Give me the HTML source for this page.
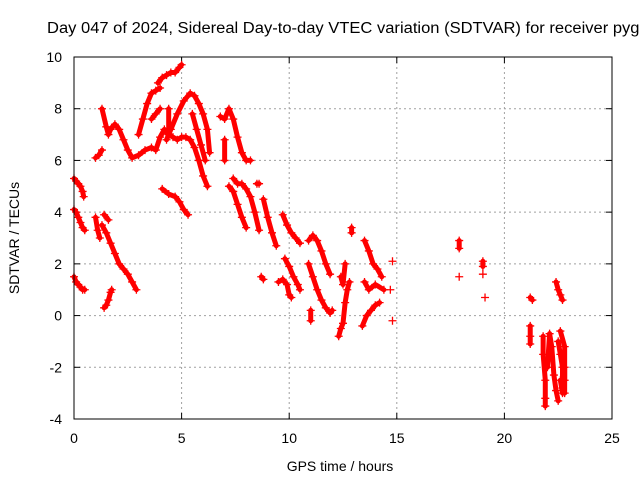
<!DOCTYPE html>
<html><head><meta charset="utf-8"><style>
body{margin:0;background:#fff}
svg{display:block;font-family:"Liberation Sans",sans-serif}
</style></head><body>
<svg id="c" width="640" height="480">
<text x="47" y="33" font-size="15.5" textLength="598" lengthAdjust="spacingAndGlyphs" fill="#000">Day 047 of 2024, Sidereal Day-to-day VTEC variation (SDTVAR) for receiver pygr</text>
<text x="340" y="471" font-size="14" text-anchor="middle">GPS time / hours</text>
<text transform="translate(19,238) rotate(-90)" font-size="14" text-anchor="middle">SDTVAR / TECUs</text>
<g id="grid"></g><g id="marks"></g>
<rect x="74" y="57" width="538" height="362" fill="none" stroke="#000" stroke-width="1"/>
</svg>
<script>
const xTicks=[0,5,10,15,20,25];
const yTicks=[-4,-2,0,2,4,6,8,10];
const tracks=[
[[0,5.3],[0.1,5.2],[0.2,5.1],[0.3,5.0],[0.4,4.8],[0.45,4.6]],
[[0,4.1],[0.1,4.0],[0.2,3.8],[0.3,3.6],[0.4,3.4],[0.5,3.3]],
[[0,1.5],[0.1,1.3],[0.2,1.2],[0.3,1.1],[0.4,1.0],[0.5,1.0]],
[[1.0,6.1],[1.15,6.2],[1.3,6.4]],
[[1.3,8.0],[1.5,7.3],[1.6,7.0],[1.7,7.2],[1.9,7.4],[2.1,7.2],[2.3,6.8],[2.5,6.4],[2.7,6.1],[3.0,6.2],[3.3,6.4],[3.6,6.5],[3.8,6.4],[4.0,6.9],[4.2,7.2],[4.4,7.0],[4.6,6.9],[4.8,6.8],[5.0,6.9],[5.2,6.9],[5.4,6.8],[5.6,6.5],[5.8,6.0],[6.0,5.4],[6.2,5.0]],
[[1.0,3.8],[1.1,3.3],[1.2,3.0]],
[[1.3,3.5],[1.5,3.2],[1.7,2.8],[1.9,2.4],[2.1,2.0],[2.3,1.8],[2.5,1.6],[2.7,1.3],[2.9,1.0]],
[[1.4,0.3],[1.5,0.4],[1.6,0.6],[1.7,0.9],[1.75,1.0]],
[[1.4,3.9],[1.6,3.7]],
[[3.0,7.0],[3.2,7.6],[3.4,8.2],[3.6,8.6],[3.8,8.7],[4.0,8.8]],
[[3.9,9.0],[4.1,9.2],[4.3,9.3],[4.5,9.4],[4.7,9.4],[4.9,9.6],[5.0,9.7]],
[[4.3,6.8],[4.5,7.2],[4.8,7.8],[5.1,8.3],[5.4,8.6],[5.6,8.5],[5.8,8.2],[6.0,7.8],[6.2,7.2],[6.3,6.3]],
[[3.6,7.6],[3.8,7.8],[4.0,8.0]],
[[4.1,4.9],[4.4,4.7],[4.7,4.6],[4.9,4.4],[5.1,4.1],[5.3,3.9]],
[[4.4,8.0],[4.4,7.0]],
[[5.5,7.8],[5.7,7.2],[5.9,6.6],[6.1,6.0]],
[[6.8,7.7],[7.0,7.6],[7.2,8.0],[7.4,7.6],[7.6,6.9],[7.8,6.3],[8.0,6.0],[8.2,6.0]],
[[7.0,6.8],[7.0,6.0]],
[[7.2,5.0],[7.4,4.8],[7.6,4.3],[7.8,3.8],[8.0,3.4]],
[[7.4,5.3],[7.6,5.1],[7.8,5.1],[8.0,4.9],[8.2,4.6],[8.4,4.0],[8.6,3.3]],
[[8.5,5.1],[8.6,5.1]],
[[8.8,4.5],[9.0,3.8],[9.2,3.2],[9.4,2.7]],
[[8.7,1.5],[8.8,1.4]],
[[9.7,3.9],[9.9,3.5],[10.1,3.2],[10.3,3.0],[10.5,2.8]],
[[9.5,1.3],[9.7,1.4],[9.9,1.2],[10.0,0.8],[10.1,0.7]],
[[9.8,2.2],[10.0,1.9],[10.2,1.5],[10.4,1.2],[10.5,1.0]],
[[10.9,2.9],[11.1,3.1],[11.3,2.9],[11.5,2.5],[11.7,2.0],[11.9,1.6]],
[[10.9,2.0],[11.1,1.5],[11.3,1.0],[11.5,0.6],[11.7,0.3],[11.9,0.1],[12.0,0.2]],
[[11.0,0.2],[11.0,-0.2]],
[[12.3,-0.8],[12.4,-0.5],[12.5,-0.3],[12.6,0.5],[12.7,1.0],[12.8,1.3]],
[[12.4,1.5],[12.5,1.2],[12.6,2.0]],
[[12.9,3.4],[12.9,3.2]],
[[13.5,2.9],[13.7,2.5],[13.9,2.0],[14.1,1.8],[14.3,1.5]],
[[13.4,-0.4],[13.6,0],[13.8,0.2],[14.0,0.4],[14.2,0.5]],
[[13.5,1.3],[13.7,1.0],[14.0,1.2],[14.4,1.0]],
[[14.8,2.1]],[[14.7,1.0]],[[14.8,-0.2]],
[[17.9,2.9],[17.9,2.6]],[[17.9,1.5]],
[[19.0,2.1],[19.0,1.9]],[[19.0,1.6]],[[19.1,0.7]],
[[21.2,0.7],[21.3,0.6]],
[[21.2,-0.4],[21.2,-0.8],[21.2,-1.1]],
[[22.4,1.3],[22.5,1.0],[22.6,0.8],[22.7,0.6]],
[[21.8,-0.8],[21.8,-1.5],[21.9,-2.5],[21.9,-3.2],[21.9,-3.5]],
[[22.0,-2.0],[22.1,-0.7],[22.2,-1.2],[22.3,-2.3],[22.4,-2.9],[22.5,-3.3]],
[[22.5,-1.0],[22.6,-1.5],[22.7,-2.0],[22.7,-2.8],[22.8,-2.5],[22.8,-1.2],[22.6,-0.6]],
[[22.6,-2.5],[22.7,-3.0],[22.8,-3.0],[22.8,-2.0]]
];
const X0=74,X1=612,Y0=419,Y1=57;
const xs=v=>X0+(v-0)/(25-0)*(X1-X0);
const ys=v=>Y0-(v+4)/(14)*(Y0-Y1);
const NS='http://www.w3.org/2000/svg';
const grid=document.getElementById('grid'),marks=document.getElementById('marks');
function mk(t,a,p){const e=document.createElementNS(NS,t);for(const k in a)e.setAttribute(k,a[k]);p.appendChild(e);return e;}
xTicks.forEach(v=>{const x=xs(v);
 if(v>0&&v<25){const l=mk('line',{x1:x,x2:x,y1:Y0,y2:Y1,stroke:'#a0a0a0','stroke-dasharray':'2,3'},grid);
 
 }
 mk('line',{x1:x,x2:x,y1:Y0,y2:Y0-6,stroke:'#000'},grid);
 mk('line',{x1:x,x2:x,y1:Y1,y2:Y1+6,stroke:'#000'},grid);
 const t=mk('text',{x:x,y:443,'font-size':14,'text-anchor':'middle'},grid);t.textContent=v;
 
 });
yTicks.forEach(v=>{const y=ys(v);
 if(v>-4&&v<10){const l=mk('line',{x1:X0,x2:X1,y1:y,y2:y,stroke:'#a0a0a0','stroke-dasharray':'2,3'},grid);
 
 }
 mk('line',{x1:X0,x2:X0+6,y1:y,y2:y,stroke:'#000'},grid);
 mk('line',{x1:X1,x2:X1-6,y1:y,y2:y,stroke:'#000'},grid);
 const t=mk('text',{x:62,y:y+5,'font-size':14,'text-anchor':'end'},grid);t.textContent=v;
 
 });
tracks.forEach(tr=>{
 const g=mk('g',{},marks);
 
 
 if(tr.length>1){mk('polyline',{points:tr.map(p=>xs(p[0])+','+ys(p[1])).join(' '),fill:'none',stroke:'#f00','stroke-width':5,'stroke-linejoin':'round','stroke-linecap':'round'},g);}
 tr.forEach(p=>{const x=xs(p[0]),y=ys(p[1]);
  mk('path',{d:`M${x-4},${y}H${x+4}M${x},${y-4}V${y+4}`,stroke:'#f00','stroke-width':1.3},g);});
});
</script>
</body></html>
